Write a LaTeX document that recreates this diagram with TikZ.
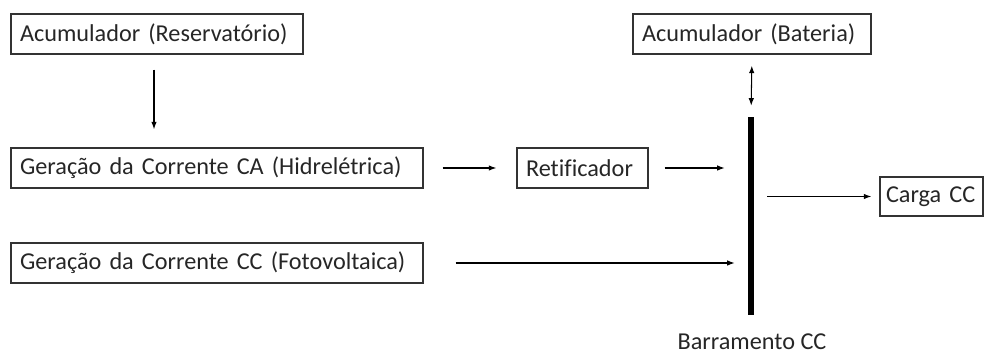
\documentclass[tikz,border=0pt]{standalone}
\usepackage{fontspec}
\setmainfont{Carlito}[Ligatures=NoCommon]
\usepackage{tikz}
\usetikzlibrary{
    positioning,
    arrows.meta
}

\begin{document}
\begin{tikzpicture}[
      x=0.02cm, y=-0.02cm,
      box/.style={draw=black!80, line width=0.8pt, minimum height=0.8cm, inner xsep=0.18cm,
        align=left, font=\fontsize{13.8}{16}\selectfont, text=black!85},
      arrow/.style={-{Latex[length=0.15cm, width=0.11cm]}, line width=0.6pt},
      both/.style={{Latex[length=0.15cm, width=0.11cm]}-{Latex[length=0.15cm, width=0.11cm]}, line width=0.6pt},
      bus/.style={fill=black, draw=none, minimum width=0.12cm, minimum height=3.96cm, inner sep=0pt}
    ]
    \useasboundingbox (0,0) rectangle (984,354);

    \node[box, text width=5.48cm] (res) at (157,34) {Acumulador (Reservatório)};
    \node[box, text width=4.40cm] (bat) at (752,34) {Acumulador (Bateria)};
    \node[box, text width=7.88cm] (hid) at (217,168) {Geração da Corrente CA (Hidrelétrica)};
    \node[box, text width=2.26cm] (ret) at (582.5,168) {Retificador};
    \node[box, text width=7.88cm] (fot) at (217,263) {Geração da Corrente CC (Fotovoltaica)};
    \node[box, inner xsep=0.12cm, text width=1.82cm, minimum height=0.78cm] (carga) at (931.5,196.5) {Carga CC};

    \node[bus] (bus) at (751,216) {};
    \node[font=\fontsize{13.8}{16}\selectfont, text=black!85] (buslbl) at (752,342) {Barramento CC};

    \draw[arrow, shorten <=0.3cm, shorten >=0.36cm] (res.south -| 154,0) -- (hid.north -| 154,0);
    \draw[arrow, shorten <=0.38cm, shorten >=0.4cm] (hid) -- (ret);
    \draw[arrow, shorten <=0.32cm, shorten >=0.46cm] (ret.east) -- (ret.east -| bus.west);
    \draw[arrow, shorten <=0.64cm, shorten >=0.26cm] (fot.east) -- (fot.east -| bus.west);
    \draw[arrow, shorten <=0.26cm, shorten >=0.16cm] (carga.west -| bus.east) -- (carga.west);
    \draw[both, shorten <=0.22cm, shorten >=0.22cm] (bat.south) -- (bus.north);
  \end{tikzpicture}
\end{document}
